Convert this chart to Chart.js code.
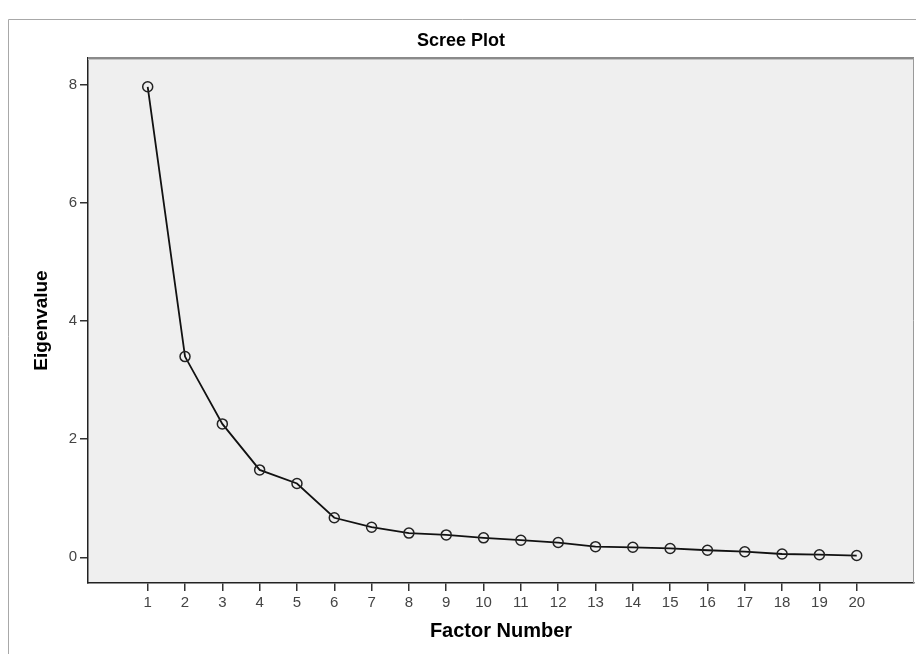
<!DOCTYPE html>
<html>
<head>
<meta charset="utf-8">
<script src="https://cdn.jsdelivr.net/npm/chart.js@4"></script>
<style>
  html, body { margin: 0; padding: 0; background: #fff; }
  canvas { display: block; }
</style>
</head>
<body>
<canvas id="scree" width="916" height="654"></canvas>
<script>
// Faktor-Nummern und Eigenwerte
const factorNumbers = [1, 2, 3, 4, 5, 6, 7, 8, 9, 10, 11, 12, 13, 14, 15, 16, 17, 18, 19, 20];
const eigenvalues = [7.97, 3.40, 2.26, 1.48, 1.25, 0.67, 0.51, 0.41, 0.38, 0.33, 0.29, 0.25, 0.18, 0.17, 0.15, 0.12, 0.095, 0.056, 0.044, 0.03];
const yTicks = [0, 2, 4, 6, 8];

const points = factorNumbers.map((f, i) => ({ x: f, y: eigenvalues[i] }));

// Hintergrund und Rahmen im SPSS-Stil
const plotFrame = {
  id: 'plotFrame',
  beforeDraw(chart) {
    const { ctx, chartArea: a } = chart;
    ctx.save();
    // aeusserer Rahmen
    ctx.strokeStyle = '#a8a8a8';
    ctx.lineWidth = 1;
    ctx.beginPath();
    ctx.moveTo(8.5, 654);
    ctx.lineTo(8.5, 19.5);
    ctx.lineTo(916, 19.5);
    ctx.stroke();
    // Plotflaeche
    ctx.fillStyle = '#efefef';
    ctx.fillRect(a.left, a.top, a.right - a.left, a.bottom - a.top);
    ctx.restore();
  },
  afterDraw(chart) {
    const { ctx, chartArea: a } = chart;
    ctx.save();
    ctx.strokeStyle = '#8a8a8a';
    ctx.lineWidth = 2;
    ctx.beginPath();
    ctx.moveTo(a.left, a.top);
    ctx.lineTo(a.right, a.top);
    ctx.stroke();
    ctx.strokeStyle = '#c4c4c4';
    ctx.lineWidth = 1;
    ctx.beginPath();
    ctx.moveTo(a.left, a.top + 1.5);
    ctx.lineTo(a.right, a.top + 1.5);
    ctx.stroke();
    ctx.strokeStyle = '#9a9a9a';
    ctx.beginPath();
    ctx.moveTo(a.right - 0.5, a.top);
    ctx.lineTo(a.right - 0.5, a.bottom);
    ctx.stroke();
    ctx.restore();
  }
};

new Chart(document.getElementById('scree'), {
  type: 'line',
  data: {
    datasets: [{
      label: 'Eigenvalue',
      data: points,
      borderColor: '#111',
      borderWidth: 1.8,
      tension: 0,
      pointRadius: 5,
      pointHoverRadius: 5,
      pointBorderWidth: 1.5,
      pointBorderColor: '#222',
      pointBackgroundColor: 'rgba(0,0,0,0)'
    }]
  },
  options: {
    responsive: false,
    animation: false,
    layout: { autoPadding: false, padding: { left: 8, right: 2, top: 0.4, bottom: 0 } },
    plugins: {
      legend: { display: false },
      tooltip: { enabled: false },
      title: {
        display: true,
        text: 'Scree Plot',
        color: '#000',
        font: { family: 'Liberation Sans, Arial, sans-serif', size: 18, weight: 'bold' },
        padding: { top: 30, bottom: 6 }
      }
    },
    scales: {
      x: {
        type: 'linear',
        min: -0.6,
        max: 21.535,
        afterFit: (scale) => { scale.height = 71; },
        afterBuildTicks: (scale) => { scale.ticks = factorNumbers.map(v => ({ value: v })); },
        ticks: {
          color: '#444',
          padding: 3,
          maxRotation: 0,
          font: { family: 'Liberation Sans, Arial, sans-serif', size: 15 },
          callback: (v) => String(v)
        },
        grid: { drawOnChartArea: false, drawTicks: true, tickLength: 8, color: '#333', lineWidth: 1.5 },
        border: { display: true, color: '#222', width: 1.5 },
        title: {
          display: true,
          text: 'Factor Number',
          color: '#000',
          font: { family: 'Liberation Sans, Arial, sans-serif', size: 20, weight: 'bold' },
          padding: { bottom: 11 }
        }
      },
      y: {
        type: 'linear',
        min: -0.435,
        max: 8.457,
        afterFit: (scale) => { scale.width = 80; },
        afterBuildTicks: (scale) => { scale.ticks = yTicks.map(v => ({ value: v })); },
        ticks: {
          color: '#444',
          padding: 3,
          font: { family: 'Liberation Sans, Arial, sans-serif', size: 15 },
          callback: (v) => String(v)
        },
        grid: { drawOnChartArea: false, drawTicks: true, tickLength: 8, color: '#333', lineWidth: 1.5 },
        border: { display: true, color: '#222', width: 1.5 },
        title: {
          display: true,
          text: 'Eigenvalue',
          color: '#000',
          font: { family: 'Liberation Sans, Arial, sans-serif', size: 19, weight: 'bold' },
          padding: { top: 22 }
        }
      }
    }
  },
  plugins: [plotFrame]
});
</script>
</body>
</html>
